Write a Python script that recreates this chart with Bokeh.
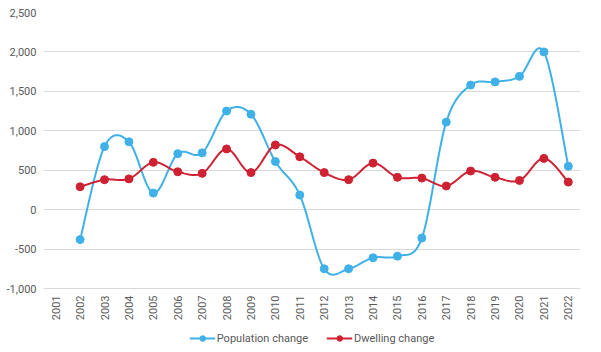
import numpy as np
from bokeh.plotting import figure
from bokeh.layouts import column
from bokeh.models import (Range1d, FixedTicker, NumeralTickFormatter, Legend, LegendItem)
from bokeh.embed import file_html
from bokeh.resources import INLINE

years = [str(y) for y in range(2001, 2023)]
pop_years = years[1:]
population = [-380, 800, 860, 210, 710, 720, 1250, 1210, 610, 185, -750, -750,
              -610, -590, -360, 1110, 1580, 1620, 1690, 2000, 550]
dwelling = [290, 380, 390, 600, 480, 460, 770, 470, 820, 670, 470, 380,
            590, 410, 400, 300, 490, 410, 370, 650, 350]
y_ticks = [-1000, -500, 0, 500, 1000, 1500, 2000, 2500]
series_names = ["Population change", "Dwelling change"]

BLUE = "#3FB1E8"
RED = "#CE2233"
GRAY = "#595959"


def smooth(xs, ys, n=24):
    # Catmull-Rom style cubic Bezier smoothing (like spreadsheet "smoothed line")
    xs = np.asarray(xs, float)
    ys = np.asarray(ys, float)
    px, py = [], []
    m = len(xs)
    for i in range(m - 1):
        x0, y0 = (xs[i - 1], ys[i - 1]) if i > 0 else (xs[i], ys[i])
        x1, y1 = xs[i], ys[i]
        x2, y2 = xs[i + 1], ys[i + 1]
        x3, y3 = (xs[i + 2], ys[i + 2]) if i + 2 < m else (xs[i + 1], ys[i + 1])
        c1x, c1y = x1 + (x2 - x0) / 6, y1 + (y2 - y0) / 6
        c2x, c2y = x2 - (x3 - x1) / 6, y2 - (y3 - y1) / 6
        t = np.linspace(0, 1, n, endpoint=(i == m - 2))
        a = (1 - t) ** 3
        b = 3 * (1 - t) ** 2 * t
        c = 3 * (1 - t) * t ** 2
        d = t ** 3
        px.extend(a * x1 + b * c1x + c * c2x + d * x2)
        py.extend(a * y1 + b * c1y + c * c2y + d * y2)
    return px, py


xpos = {y: i + 1 for i, y in enumerate(years)}
pop_x = [xpos[y] for y in pop_years]
dw_x = [xpos[y] for y in pop_years]

p = figure(width=601, height=324, output_backend="svg", toolbar_location=None,
           x_range=Range1d(0.5, len(years) + 0.5), y_range=Range1d(-1000, 2500),
           min_border_left=43, min_border_right=21, min_border_top=12, min_border_bottom=36)
p.outline_line_color = None
p.background_fill_color = "white"

p.xgrid.grid_line_color = None
p.ygrid.ticker = FixedTicker(ticks=y_ticks)
p.ygrid.grid_line_color = "#D9D9D9"
p.ygrid.grid_line_width = 1

p.yaxis.ticker = FixedTicker(ticks=y_ticks)
p.yaxis.formatter = NumeralTickFormatter(format="0,0")
p.yaxis.axis_line_color = None
p.yaxis.major_tick_line_color = None
p.yaxis.minor_tick_line_color = None
p.yaxis.major_tick_out = 0
p.yaxis.major_tick_in = 0
p.yaxis.minor_tick_out = 0
p.yaxis.major_label_text_font = "Roboto"
p.yaxis.major_label_text_font_size = "11px"
p.yaxis.major_label_text_color = GRAY
p.yaxis.major_label_standoff = 7

p.xaxis.ticker = FixedTicker(ticks=list(range(1, len(years) + 1)))
p.xaxis.major_label_overrides = {i + 1: y for i, y in enumerate(years)}
p.xaxis.major_label_orientation = np.pi / 2
p.xaxis.axis_line_color = "#D9D9D9"
p.xaxis.major_tick_line_color = None
p.xaxis.minor_tick_line_color = None
p.xaxis.major_tick_out = 0
p.xaxis.major_tick_in = 0
p.xaxis.minor_tick_out = 0
p.xaxis.axis_label_standoff = 0
p.xaxis.major_label_text_font = "Roboto"
p.xaxis.major_label_text_font_size = "11px"
p.xaxis.major_label_text_color = GRAY
p.xaxis.major_label_standoff = 7

sx, sy = smooth(pop_x, population)
p.line(sx, sy, line_color=BLUE, line_width=2)
p.scatter(pop_x, population, size=8, fill_color=BLUE, line_color=BLUE)

dx, dy = smooth(dw_x, dwelling)
p.line(dx, dy, line_color=RED, line_width=2)
p.scatter(dw_x, dwelling, size=8, fill_color=RED, line_color=RED)

# separate legend strip below the chart (its sample glyphs sit outside the visible range)
lg = figure(width=601, height=28, output_backend="svg", toolbar_location=None,
            x_range=Range1d(0, 1), y_range=Range1d(0, 1),
            min_border_left=0, min_border_right=0, min_border_top=0, min_border_bottom=0)
lg.axis.visible = False
lg.grid.visible = False
lg.outline_line_color = None
items = []
for name, col in zip(series_names, [BLUE, RED]):
    rl = lg.line([-10, -9], [-10, -9], line_color=col, line_width=2)
    rs = lg.scatter([-10], [-10], size=8, fill_color=col, line_color=col)
    items.append(LegendItem(label=name, renderers=[rl, rs]))

legend = Legend(items=items, orientation="horizontal", location="center")
legend.label_text_font = "Roboto"
legend.label_text_font_size = "11px"
legend.label_text_color = GRAY
legend.border_line_color = None
legend.background_fill_alpha = 0
legend.glyph_width = 26
legend.glyph_height = 14
legend.spacing = 18
legend.padding = 0
legend.margin = 0
legend.label_standoff = 2
legend.label_height = 14
lg.add_layout(legend, "center")

layout = column(p, lg, spacing=0)
open("out.html", "w").write(file_html(layout, INLINE))
